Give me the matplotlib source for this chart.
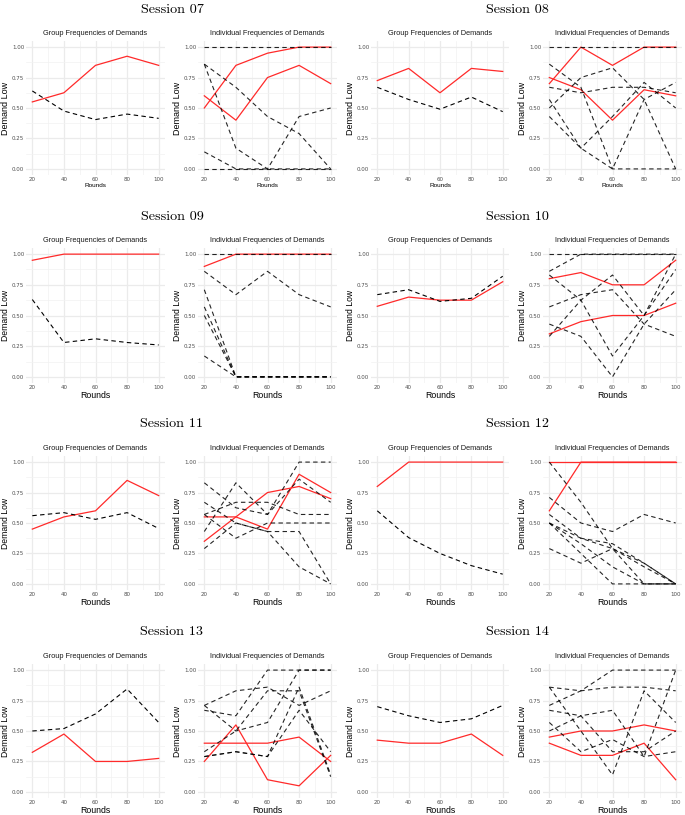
import numpy as np
import matplotlib
matplotlib.use("Agg")
import matplotlib.pyplot as plt

rounds = [20, 40, 60, 80, 100]
y_ticks = [0.0, 0.25, 0.5, 0.75, 1.0]
session_names = ["Session 07", "Session 08", "Session 09", "Session 10",
                 "Session 11", "Session 12", "Session 13", "Session 14"]

# group frequencies (red = one treatment, black dashed = other)
s07_group_red = [0.55, 0.625, 0.85, 0.925, 0.85]
s07_group_black = [0.64, 0.475, 0.405, 0.45, 0.415]
s08_group_red = [0.725, 0.825, 0.625, 0.825, 0.80]
s08_group_black = [0.67, 0.57, 0.49, 0.59, 0.47]
s09_group_red = [0.95, 1.0, 1.0, 1.0, 1.0]
s09_group_black = [0.63, 0.28, 0.31, 0.28, 0.26]
s10_group_red = [0.575, 0.65, 0.625, 0.625, 0.775]
s10_group_black = [0.67, 0.71, 0.615, 0.64, 0.82]
s11_group_red = [0.45, 0.55, 0.60, 0.85, 0.725]
s11_group_black = [0.56, 0.585, 0.53, 0.585, 0.455]
s12_group_red = [0.80, 1.0, 1.0, 1.0, 1.0]
s12_group_black = [0.60, 0.38, 0.25, 0.15, 0.08]
s13_group_red = [0.325, 0.475, 0.25, 0.25, 0.275]
s13_group_black = [0.50, 0.52, 0.64, 0.845, 0.57]
s14_group_red = [0.425, 0.40, 0.40, 0.475, 0.30]
s14_group_black = [0.70, 0.625, 0.57, 0.60, 0.71]

# individual frequencies
s07_indiv_red = [[0.50, 0.85, 0.95, 1.0, 1.0],
                 [0.60, 0.40, 0.75, 0.85, 0.70]]
s07_indiv_black = [[1.0, 1.0, 1.0, 1.0, 1.0],
                   [0.86, 0.67, 0.43, 0.29, 0.0],
                   [0.86, 0.17, 0.0, 0.43, 0.50],
                   [0.14, 0.0, 0.0, 0.0, 0.0],
                   [0.0, 0.0, 0.0, 0.0, 0.0]]
s08_indiv_red = [[0.70, 1.0, 0.85, 1.0, 1.0],
                 [0.75, 0.65, 0.40, 0.65, 0.60]]
s08_indiv_black = [[1.0, 1.0, 1.0, 1.0, 1.0],
                   [0.86, 0.67, 0.0, 0.0, 0.0],
                   [0.50, 0.75, 0.83, 0.57, 0.0],
                   [0.67, 0.625, 0.67, 0.67, 0.625],
                   [0.57, 0.17, 0.43, 0.71, 0.50],
                   [0.43, 0.17, 0.0, 0.57, 0.71]]
s09_indiv_red = [[0.90, 1.0, 1.0, 1.0, 1.0]]
s09_indiv_black = [[1.0, 1.0, 1.0, 1.0, 1.0],
                   [0.86, 0.67, 0.86, 0.67, 0.57],
                   [0.71, 0.0, 0.0, 0.0, 0.0],
                   [0.57, 0.0, 0.0, 0.0, 0.0],
                   [0.50, 0.0, 0.0, 0.0, 0.0],
                   [0.17, 0.0, 0.0, 0.0, 0.0]]
s10_indiv_red = [[0.80, 0.85, 0.75, 0.75, 0.95],
                 [0.35, 0.45, 0.50, 0.50, 0.60]]
s10_indiv_black = [[1.0, 1.0, 1.0, 1.0, 1.0],
                   [0.86, 1.0, 1.0, 1.0, 1.0],
                   [0.83, 0.625, 0.17, 0.50, 1.0],
                   [0.57, 0.67, 0.71, 0.43, 0.33],
                   [0.43, 0.33, 0.0, 0.43, 0.71],
                   [0.33, 0.625, 0.83, 0.50, 0.875]]
s11_indiv_red = [[0.35, 0.55, 0.75, 0.80, 0.70],
                 [0.55, 0.55, 0.45, 0.90, 0.75]]
s11_indiv_black = [[0.83, 0.625, 0.57, 1.0, 1.0],
                   [0.43, 0.83, 0.57, 0.86, 0.67],
                   [0.67, 0.50, 0.43, 0.43, 0.0],
                   [0.57, 0.67, 0.67, 0.57, 0.57],
                   [0.57, 0.375, 0.50, 0.50, 0.50],
                   [0.29, 0.50, 0.43, 0.14, 0.0]]
s12_indiv_red = [[1.0, 1.0, 1.0, 1.0, 1.0],
                 [0.60, 1.0, 1.0, 1.0, 1.0]]
s12_indiv_black = [[1.0, 0.67, 0.29, 0.0, 0.0],
                   [0.71, 0.50, 0.43, 0.57, 0.50],
                   [0.57, 0.375, 0.33, 0.17, 0.0],
                   [0.50, 0.375, 0.29, 0.14, 0.0],
                   [0.50, 0.33, 0.14, 0.0, 0.0],
                   [0.50, 0.25, 0.0, 0.0, 0.0],
                   [0.29, 0.17, 0.29, 0.17, 0.0]]
s13_indiv_red = [[0.25, 0.55, 0.10, 0.05, 0.30],
                 [0.40, 0.40, 0.40, 0.45, 0.25]]
s13_indiv_black = [[0.71, 0.83, 0.86, 0.71, 0.83],
                   [0.67, 0.625, 1.0, 1.0, 1.0],
                   [0.71, 0.50, 0.57, 1.0, 1.0],
                   [0.33, 0.50, 0.83, 0.83, 0.125],
                   [0.29, 0.33, 0.29, 0.86, 0.14],
                   [0.29, 0.33, 0.29, 0.67, 0.33]]
s14_indiv_red = [[0.45, 0.50, 0.50, 0.55, 0.50],
                 [0.40, 0.30, 0.30, 0.40, 0.10]]
s14_indiv_black = [[0.86, 0.83, 0.86, 0.86, 0.83],
                   [0.71, 0.83, 1.0, 1.0, 1.0],
                   [0.86, 0.50, 0.14, 0.83, 0.57],
                   [0.67, 0.625, 0.33, 0.33, 0.50],
                   [0.57, 0.33, 0.43, 0.29, 0.33],
                   [0.50, 0.625, 0.67, 0.29, 1.0]]

sessions = [
    (s07_group_red, s07_group_black, s07_indiv_red, s07_indiv_black),
    (s08_group_red, s08_group_black, s08_indiv_red, s08_indiv_black),
    (s09_group_red, s09_group_black, s09_indiv_red, s09_indiv_black),
    (s10_group_red, s10_group_black, s10_indiv_red, s10_indiv_black),
    (s11_group_red, s11_group_black, s11_indiv_red, s11_indiv_black),
    (s12_group_red, s12_group_black, s12_indiv_red, s12_indiv_black),
    (s13_group_red, s13_group_black, s13_indiv_red, s13_indiv_black),
    (s14_group_red, s14_group_black, s14_indiv_red, s14_indiv_black),
]

W, H = 685, 815
RED = "#FF2A2A"
DASH = (0, (4, 3))

# pixel layout: rows (top, bottom, session title y, subplot title y)
rows = [(41, 175, 10, 34), (248, 383, 217, 242), (456, 590, 424, 449), (664, 798, 632, 657)]
# columns: (group left, group right, indiv left, indiv right, title centre)
cols = [(26, 165, 198, 337, 172), (371, 509, 543, 682, 517)]


def rect(l, r, t, b):
    return [l / W, 1 - b / H, (r - l) / W, (b - t) / H]


def style_axes(ax, title, xlab_size, ylab_size):
    ax.set_xlim(16, 104)
    ax.set_ylim(-0.05, 1.05)
    ax.set_xticks(rounds)
    ax.set_xticks([30, 50, 70, 90], minor=True)
    ax.set_yticks(y_ticks)
    ax.set_yticklabels([f"{v:.2f}" for v in y_ticks])
    ax.set_yticks([0.125, 0.375, 0.625, 0.875], minor=True)
    ax.grid(which="major", color="#EBEBEB", lw=0.9)
    ax.grid(which="minor", color="#F2F2F2", lw=0.5)
    ax.set_axisbelow(True)
    for sp in ax.spines.values():
        sp.set_visible(False)
    ax.tick_params(which="both", length=0, labelsize=4, colors="#4D4D4D", pad=1.2)
    ax.set_title(title, fontsize=5.3, pad=4, color="#1a1a1a", family="Liberation Sans")
    ax.set_xlabel("Rounds", fontsize=xlab_size, labelpad=1, family="Liberation Sans")
    ax.set_ylabel("Demand Low", fontsize=ylab_size, labelpad=1.5, family="Liberation Sans")


fig = plt.figure(figsize=(W / 100, H / 100), dpi=100)

for i, (g_red, g_black, i_red, i_black) in enumerate(sessions):
    r, c = divmod(i, 2)
    top, bot, ty, sty = rows[r]
    gl, gr, il, ir, cx = cols[c]
    xs = 4.6 if r == 0 else 6.3
    ys = 6.5 if r == 0 else 6.2

    ax1 = fig.add_axes(rect(gl, gr, top, bot))
    ax1.plot(rounds, g_red, color=RED, lw=0.9)
    ax1.plot(rounds, g_black, color="black", lw=0.8, ls=DASH)
    style_axes(ax1, "Group Frequencies of Demands", xs, ys)

    ax2 = fig.add_axes(rect(il, ir, top, bot))
    for line in i_red:
        ax2.plot(rounds, line, color=RED, lw=0.9)
    for line in i_black:
        ax2.plot(rounds, line, color="black", lw=0.8, ls=DASH, alpha=0.85)
    style_axes(ax2, "Individual Frequencies of Demands", xs, ys)

    fig.text(cx / W, 1 - ty / H, session_names[i], ha="center", va="center",
             fontsize=10.2, family="cmr10")

fig.savefig("out.png", dpi=100)
